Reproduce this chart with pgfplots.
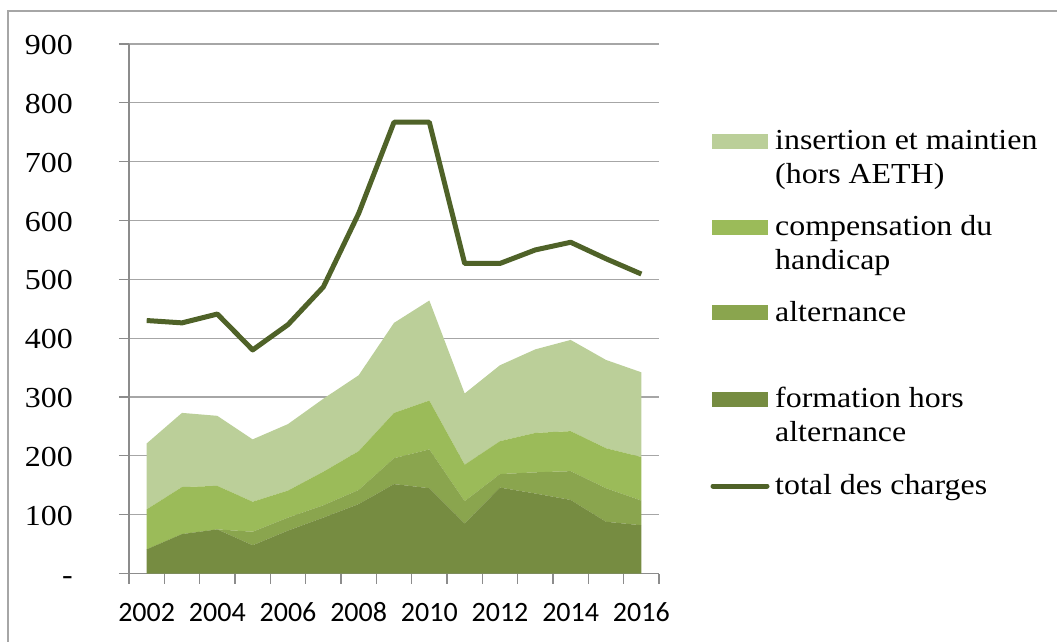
\documentclass[border=0pt]{standalone}
\usepackage{fontspec}
\setmainfont{Liberation Serif}
\newfontfamily\cambria[FakeStretch=1.1]{Liberation Serif}
\newfontfamily\calibri{Carlito}
\usepackage{pgfplots}
\usepackage{pgfplotstable}
\pgfplotsset{compat=1.18}
\definecolor{cform}{HTML}{768C41}
\definecolor{calt}{HTML}{8AA54E}
\definecolor{ccomp}{HTML}{9BBB59}
\definecolor{cins}{HTML}{BBCF99}
\definecolor{ctotal}{HTML}{4F6228}
\definecolor{gridgray}{HTML}{A6A6A6}
\definecolor{axisgray}{HTML}{8C8C8C}

% charges par poste, en millions
\pgfplotstableread{
year formation alternance compensation insertion total
2002 41  0  68 112 430
2003 67  0  80 126 426
2004 75  0  74 119 441
2005 48 23  51 106 380
2006 73 22  46 113 423
2007 95 21  57 124 487
2008 118 24 66 129 612
2009 152 44 77 153 767
2010 145 66 83 170 767
2011 85 38  62 121 527
2012 146 23 56 129 527
2013 136 36 67 142 550
2014 125 49 68 155 563
2015 88 57  68 150 535
2016 82 42  74 144 509
}\charges

\begin{document}
\begin{tikzpicture}
\path[use as bounding box] (0,0) rectangle (1057pt,-642pt);
\draw[color=gridgray, line width=1.5pt] (8pt,-642pt) -- (8pt,-11pt) -- (1057pt,-11pt);

\begin{axis}[
  at={(129pt,-573.5pt)}, anchor=south west,
  scale only axis, width=530pt, height=529.5pt,
  xmin=2001.5, xmax=2016.5, ymin=0, ymax=900,
  stack plots=y,
  axis lines*=left,
  axis line style={line width=1.2pt, color=axisgray},
  tick style={line width=1.2pt, color=axisgray},
  major tick length=10pt, tick align=outside,
  xtick={2001.5,2002.5,...,2016.5}, xticklabels={},
  extra x ticks={2002,2004,...,2016},
  extra x tick labels={2002,2004,2006,2008,2010,2012,2014,2016},
  extra x tick style={major tick length=0pt, grid=none},
  xticklabel style={font=\fontsize{28}{30}\calibri, anchor=base, inner sep=0pt, yshift=-47.5pt},
  ytick={0,100,...,900},
  yticklabels={{-},100,200,300,400,500,600,700,800,900},
  yticklabel style={font=\fontsize{29}{30}\cambria, anchor=base east, inner sep=0pt, xshift=-46pt, yshift=-10.5pt},
  ymajorgrids, grid style={line width=1.2pt, color=gridgray},
]
\addplot[fill=cform, draw=none] table[x=year, y=formation] {\charges} \closedcycle;
\addplot[fill=calt, draw=none] table[x=year, y=alternance] {\charges} \closedcycle;
\addplot[fill=ccomp, draw=none] table[x=year, y=compensation] {\charges} \closedcycle;
\addplot[fill=cins, draw=none] table[x=year, y=insertion] {\charges} \closedcycle;
\end{axis}

\begin{axis}[
  at={(129pt,-573.5pt)}, anchor=south west,
  scale only axis, width=530pt, height=529.5pt,
  xmin=2001.5, xmax=2016.5, ymin=0, ymax=900,
  hide axis,
]
\addplot[color=ctotal, line width=5pt, line join=round] table[x=year, y=total] {\charges};
\end{axis}

% legende
\fill[cins] (712pt,-133.5pt) rectangle (768pt,-148.5pt);
\fill[ccomp] (712pt,-219.5pt) rectangle (768pt,-234.5pt);
\fill[calt] (712pt,-304.5pt) rectangle (768pt,-319.5pt);
\fill[cform] (712pt,-391.5pt) rectangle (768pt,-406.5pt);
\draw[ctotal, line width=5pt, line cap=round] (713pt,-486pt) -- (767pt,-486pt);
\begin{scope}[every node/.style={anchor=base west, inner sep=0pt, font=\fontsize{29}{35}\cambria}]
\node at (775pt,-149.3pt) {insertion et maintien};
\node at (775pt,-183.3pt) {(hors AETH)};
\node at (775pt,-235.3pt) {compensation du};
\node at (775pt,-269.3pt) {handicap};
\node at (775pt,-321pt) {alternance};
\node at (775pt,-407pt) {formation hors};
\node at (775pt,-441.5pt) {alternance};
\node at (775pt,-494pt) {total des charges};
\end{scope}
\end{tikzpicture}
\end{document}
